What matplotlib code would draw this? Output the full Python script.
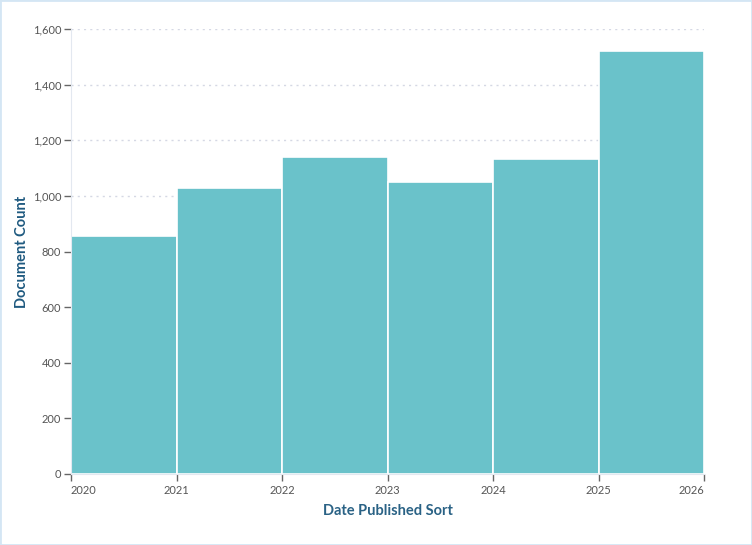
import matplotlib
matplotlib.use("Agg")
import matplotlib.pyplot as plt
from matplotlib.ticker import FuncFormatter
from matplotlib.patches import Rectangle

years = [2020, 2021, 2022, 2023, 2024, 2025]
counts = [857, 1028, 1140, 1050, 1133, 1520]
xticks = [2020, 2021, 2022, 2023, 2024, 2025, 2026]
yticks = [0, 200, 400, 600, 800, 1000, 1200, 1400, 1600]

plt.rcParams['font.family'] = ['Lato', 'DejaVu Sans']

fig = plt.figure(figsize=(7.52, 5.45), dpi=100)
ax = fig.add_axes([71/752, 1-474/545, (704-71)/752, (474-29)/545])

ax.bar(years, counts, width=1.0, align='edge', color='#6ac2ca',
       edgecolor='white', linewidth=1.2, zorder=3)

ax.set_xlim(2020, 2026)
ax.set_ylim(0, 1600)
ax.set_xticks(xticks)
ax.set_xticklabels([str(t) for t in xticks])
ax.set_yticks(yticks)
ax.yaxis.set_major_formatter(FuncFormatter(lambda v, p: f"{int(v):,}"))

ax.grid(axis='y', linestyle=(0, (1.5, 3)), color='#d5d8e4', linewidth=1, zorder=0)
ax.grid(axis='x', visible=False)

for s in ['top', 'right']:
    ax.spines[s].set_visible(False)
ax.spines['left'].set_color('#e3e8f0')
ax.spines['bottom'].set_color('#e3e8f0')
ax.spines['left'].set_zorder(4)
ax.spines['bottom'].set_zorder(4)

ax.tick_params(axis='both', colors='#666666', labelsize=8, length=5, width=1,
               labelcolor='#555555')
ax.tick_params(axis='x', pad=3)
ax.tick_params(axis='y', pad=2)
ax.get_xticklabels()[0].set_horizontalalignment('left')
ax.get_xticklabels()[-1].set_horizontalalignment('right')

ax.set_xlabel('Date Published Sort', fontsize=10.5, fontweight='bold',
              color='#2a6285', labelpad=6)
ax.set_ylabel('Document Count', fontsize=10.5, fontweight='bold',
              color='#1f5a80')
ax.yaxis.set_label_coords(-0.066, 0.5)

fig.patches.append(Rectangle((0, 0), 1, 1, transform=fig.transFigure,
                             fill=False, edgecolor='#d4e6f4', linewidth=2))

fig.savefig('out.png', dpi=100)
